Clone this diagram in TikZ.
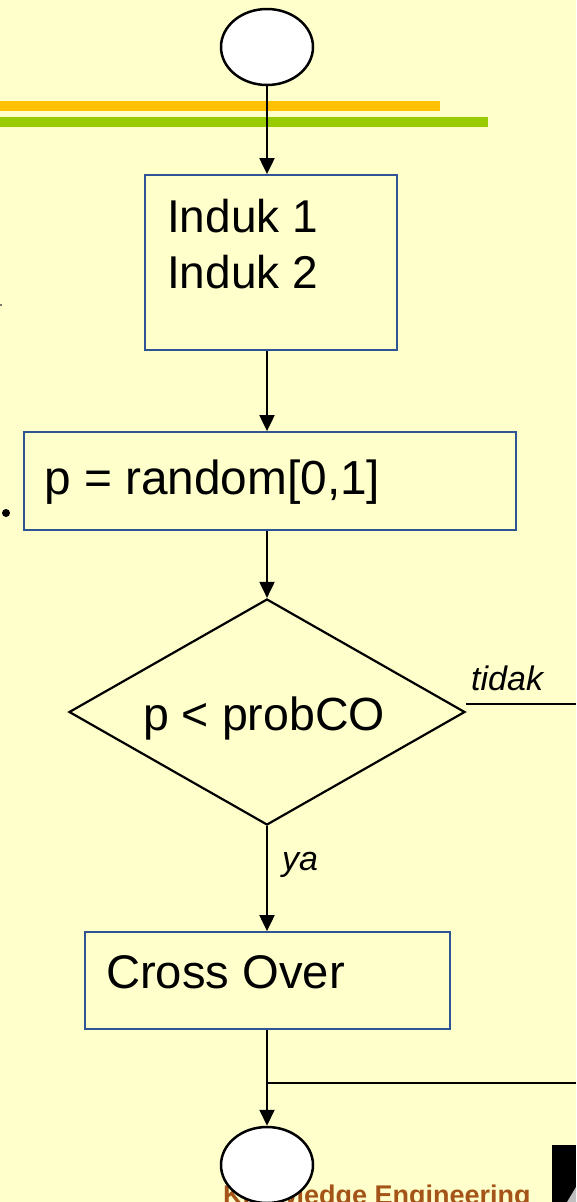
\documentclass[tikz,border=0pt]{standalone}
\usepackage{fontspec}
\setmainfont{Liberation Sans}
\usetikzlibrary{shapes.geometric,arrows.meta,calc}

\definecolor{paper}{RGB}{255,255,204}
\definecolor{barorange}{RGB}{255,192,0}
\definecolor{bargreen}{RGB}{153,204,0}
\definecolor{boxblue}{RGB}{47,84,150}
\definecolor{footbrown}{RGB}{164,84,24}

\tikzset{
  procbox/.style={draw=boxblue, line width=1.8pt, rectangle, inner sep=0pt},
  terminal/.style={draw=black, fill=white, line width=2.5pt, ellipse, inner sep=0pt,
    minimum width=92pt, minimum height=76pt},
  decision/.style={draw=black, line width=2.2pt, diamond, inner sep=0pt,
    minimum width=396pt, minimum height=226pt},
  conn/.style={draw=black, line width=2pt},
  flow/.style={conn, -{Triangle[width=15pt,length=16pt]}},
  lab/.style={inner sep=0pt, anchor=base west, font=\fontsize{46}{56}\selectfont},
  tag/.style={inner sep=0pt, anchor=base west, font=\fontsize{34}{40}\selectfont\itshape},
}

\begin{document}
\begin{tikzpicture}[x=1pt, y=-1pt]
  % page
  \useasboundingbox (0,0) rectangle (576,1202);
  \fill[paper] (0,0) rectangle (576,1202);

  % title bars
  \fill[barorange] (0,101) rectangle (440,111);
  \fill[bargreen] (0,117) rectangle (488,127);

  % stray bullet marks at the left edge
  \fill[black] (6,513) circle (4pt);
  \fill[black!70] (1,305) circle (1.2pt);

  % footer
  \node[inner sep=0pt, anchor=base west, text=footbrown,
        font=\fontsize{27}{30}\selectfont\bfseries] (foot) at (223,1204) {Knowledge Engineering};
  \fill[black] (552,1145) rectangle (576,1202);
  \fill[black!25] (576,1187) -- (567,1202) -- (576,1202) -- cycle;

  % flowchart shapes
  \node[terminal] (start) at (267,47) {};
  \node[procbox, minimum width=252pt, minimum height=175pt] (parents) at (271,262.5) {};
  \node[procbox, minimum width=492pt, minimum height=98pt] (rand) at (270,481) {};
  \node[decision] (dec) at (267,712) {};
  \node[procbox, minimum width=365pt, minimum height=97pt] (cross) at (267.5,980.5) {};
  \node[terminal] (stop) at (267,1165) {};

  % texts
  \node[lab] (t1) at (167,232) {Induk 1};
  \node[lab] (t2) at (167,288) {Induk 2};
  \node[lab, font=\fontsize{47.8}{56}\selectfont] (t3) at (44,494) {p = random[0,1]};
  \node[lab, font=\fontsize{46.5}{56}\selectfont] (t4) at (143,730) {p < probCO};
  \node[lab, font=\fontsize{47.2}{56}\selectfont] (t5) at (106,988) {Cross Over};
  \node[tag] (no) at (471,690) {tidak};
  \node[tag] (yes) at (282,870) {ya};

  % connectors
  \coordinate (noend) at (576,704);
  \coordinate (join) at (267,1083);
  \coordinate (joinend) at (576,1083);

  \draw[flow] (start.south) -- (start.south |- parents.north);
  \draw[flow] (start.south |- parents.south) -- (start.south |- rand.north);
  \draw[flow] (start.south |- rand.south) -- (dec.north);
  \draw[flow] (dec.south) -- (dec.south |- cross.north);
  \draw[conn] ($(dec.east)+(0,-8)$) -- (noend);
  \draw[flow] (dec.south |- cross.south) -- (join) -- (stop.north);
  \draw[conn] (join) -- (joinend);
\end{tikzpicture}
\end{document}
